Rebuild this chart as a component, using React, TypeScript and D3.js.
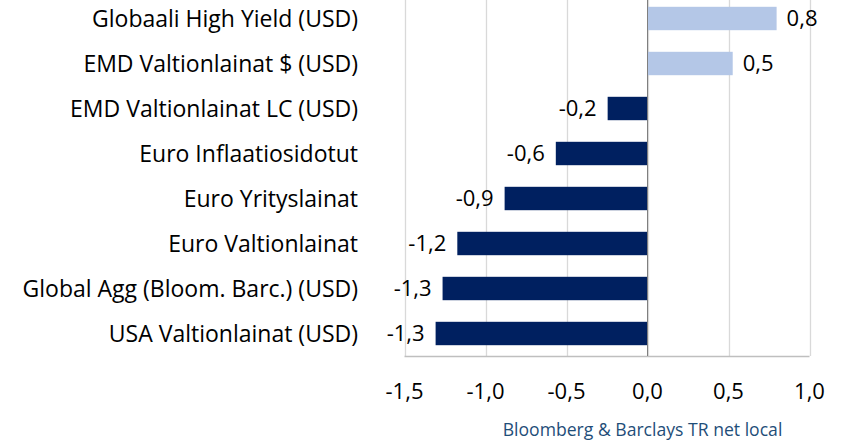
import React from "react";
import * as d3 from "d3";

const categories = [
  "Globaali High Yield (USD)",
  "EMD Valtionlainat $ (USD)",
  "EMD Valtionlainat LC (USD)",
  "Euro Inflaatiosidotut",
  "Euro Yrityslainat",
  "Euro Valtionlainat",
  "Global Agg (Bloom. Barc.) (USD)",
  "USA Valtionlainat (USD)",
];
const values = [0.797, 0.526, -0.246, -0.566, -0.882, -1.174, -1.265, -1.308];
const labels = ["0,8", "0,5", "-0,2", "-0,6", "-0,9", "-1,2", "-1,3", "-1,3"];
const ticks = [-1.5, -1.0, -0.5, 0.0, 0.5, 1.0];
const sourceText = "Bloomberg & Barclays TR net local";

const W = 848;
const H = 440;
const FONT = "'Open Sans', 'Noto Sans', sans-serif";

export default function App() {
  const x = d3.scaleLinear().domain([-1.5, 1.0]).range([404.5, 809.5]);
  const y = d3
    .scaleBand<string>()
    .domain(categories)
    .range([-4, 356])
    .paddingInner(0.48)
    .paddingOuter(0.24);
  const fmt = (v: number) => d3.format(".1f")(v).replace(".", ",").replace("−", "-");
  const x0 = x(0);
  return (
    <svg
      width={W}
      height={H}
      style={{ position: "absolute", left: 0, top: 0, background: "#fff" }}
      fontFamily={FONT}
    >
      {ticks.map((t) => (
        <line
          key={"g" + t}
          x1={Math.round(x(t)) + 0.5}
          x2={Math.round(x(t)) + 0.5}
          y1={0}
          y2={356}
          stroke="#d9d9d9"
          strokeWidth={1.3}
        />
      ))}
      <line x1={x(-1.5)} x2={x(1.0)} y1={356.5} y2={356.5} stroke="#bfbfbf" strokeWidth={1.3} />
      {categories.map((c, i) => {
        const v = values[i];
        const yy = y(c)!;
        const bw = y.bandwidth();
        return (
          <g key={c}>
            <rect
              x={Math.min(x(v), x0)}
              y={yy}
              width={Math.abs(x(v) - x0)}
              height={bw}
              fill={v >= 0 ? "#b4c7e7" : "#002060"}
            />
            <text
              x={v >= 0 ? x(v) + 10 : x(v) - 11}
              y={yy + bw / 2}
              dy="0.36em"
              textAnchor={v >= 0 ? "start" : "end"}
              fontSize={22}
              fill="#000"
            >
              {labels[i]}
            </text>
            <text x={358} y={yy + bw / 2} dy="0.36em" textAnchor="end" fontSize={23} fill="#000">
              {c}
            </text>
          </g>
        );
      })}
      <line x1={x0} x2={x0} y1={0} y2={356} stroke="#7f7f7f" strokeWidth={1} />
      {ticks.map((t) => (
        <text key={"t" + t} x={x(t)} y={399} textAnchor="middle" fontSize={22} fill="#000">
          {fmt(t)}
        </text>
      ))}
      <text x={642.5} y={436} textAnchor="middle" fontSize={17.6} fill="#1f4e79">
        {sourceText}
      </text>
    </svg>
  );
}
